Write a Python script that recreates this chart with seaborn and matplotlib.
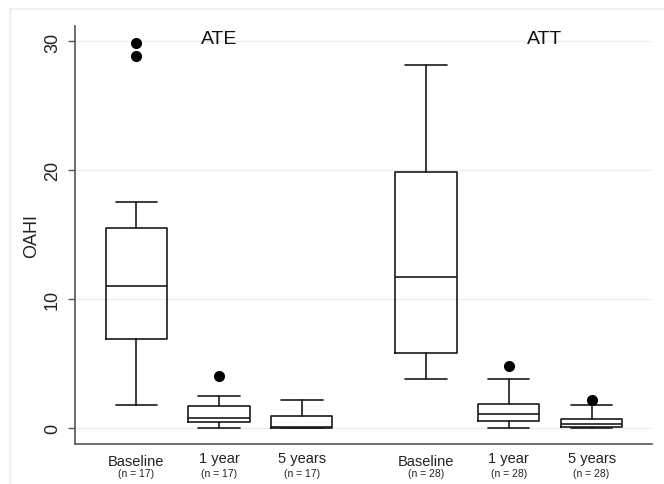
import matplotlib
matplotlib.use("Agg")
import matplotlib.pyplot as plt
import seaborn as sns
from matplotlib.patches import Rectangle
from matplotlib.transforms import blended_transform_factory

sns.set_style("white")
plt.rcParams['font.family'] = ['Liberation Sans', 'DejaVu Sans']

# summary statistics (OAHI)
groups = ["ATE", "ATE", "ATE", "ATT", "ATT", "ATT"]
times = ["Baseline", "1 year", "5 years", "Baseline", "1 year", "5 years"]
counts = [17, 17, 17, 28, 28, 28]
whislo = [1.8, 0.0, 0.0, 3.8, 0.0, 0.0]
q1 = [6.9, 0.45, 0.0, 5.8, 0.57, 0.08]
med = [11.0, 0.75, 0.05, 11.73, 1.06, 0.31]
q3 = [15.5, 1.73, 0.96, 19.85, 1.86, 0.7]
whishi = [17.5, 2.5, 2.2, 28.2, 3.8, 1.79]
fliers = [[29.9, 28.9], [4.0], [], [], [4.8], [2.2]]
positions = [0, 1, 2, 3.5, 4.5, 5.5]

stats = []
for i in range(len(times)):
    stats.append(dict(whislo=whislo[i], q1=q1[i], med=med[i], q3=q3[i],
                      whishi=whishi[i], fliers=fliers[i]))

fig = plt.figure(figsize=(6.64, 4.85), dpi=100)
ax = fig.add_axes([75 / 664, 1 - 445 / 485, (652 - 75) / 664, (445 - 27) / 485])

# faint frame round the figure
fig.patches.append(Rectangle((10 / 664, -0.1), 1.2, 1 - 10 / 485 + 0.1,
                             transform=fig.transFigure, fill=False,
                             edgecolor="#e6eef2", linewidth=1.2))

lw = 1.2
ax.bxp(stats, positions=positions, widths=0.74, capwidths=0.5,
       showfliers=True, patch_artist=False,
       boxprops=dict(color="#1a1a1a", linewidth=lw),
       medianprops=dict(color="#1a1a1a", linewidth=lw),
       whiskerprops=dict(color="#1a1a1a", linewidth=lw),
       capprops=dict(color="#1a1a1a", linewidth=lw),
       flierprops=dict(marker="o", markerfacecolor="black",
                       markeredgecolor="black", markersize=7))

ax.set_xlim(-0.74, 6.23)
ax.set_ylim(-1.25, 31.2)
ax.set_yticks([0, 10, 20, 30])
ax.set_xticks([])
ax.grid(axis="y", color="#e8f0f3", linewidth=1.0)
ax.set_axisbelow(True)

for side in ["top", "right"]:
    ax.spines[side].set_visible(False)
for side in ["left", "bottom"]:
    ax.spines[side].set_color("#555555")
    ax.spines[side].set_linewidth(1.2)

ax.tick_params(axis="y", left=True, length=5, width=1, color="#555555",
               labelsize=13, labelcolor="#222222", pad=5)
for lab in ax.get_yticklabels():
    lab.set_rotation(90)
    lab.set_va("center")

ax.set_ylabel("OAHI", fontsize=13, labelpad=3, color="#222222")

trans = blended_transform_factory(ax.transData, ax.transAxes)
for p, t, n in zip(positions, times, counts):
    ax.text(p, -0.016 if t != "Baseline" else -0.023, t, transform=trans,
            ha="center", va="top", fontsize=10.5, color="#222222")
    ax.text(p, -0.057, f"(n = {n})", transform=trans,
            ha="center", va="top", fontsize=7.5, color="#222222")

ax.text(1, 0.99, "ATE", transform=trans, ha="center", va="top", fontsize=14, color="#111111")
ax.text(4.93, 0.99, "ATT", transform=trans, ha="center", va="top", fontsize=14, color="#111111")

fig.savefig("out.png", dpi=100)
